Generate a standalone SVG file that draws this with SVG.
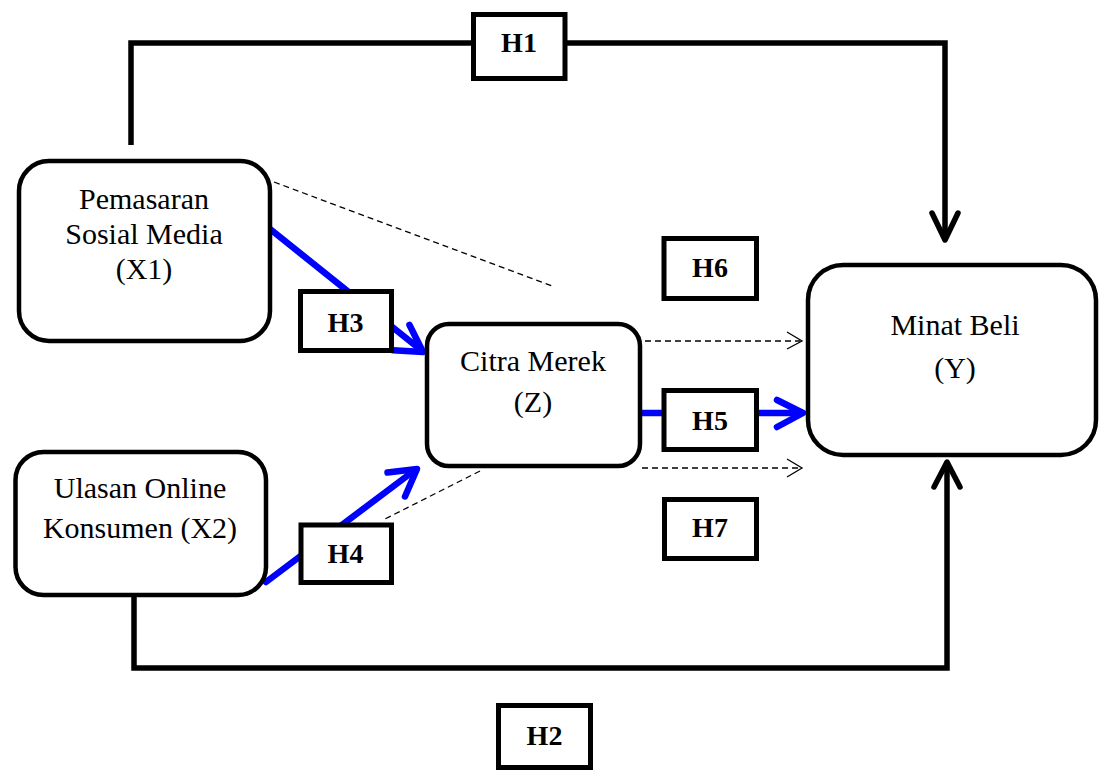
<svg xmlns="http://www.w3.org/2000/svg" width="1099" height="772" viewBox="0 0 1099 772">
<style>
.node{fill:#fff;stroke:#000;stroke-width:4.5}
.hbox{fill:#fff;stroke:#000;stroke-width:5}
.lbl{font-family:"Liberation Serif","Times New Roman",serif;font-size:30px;fill:#000;text-anchor:middle}
.h{font-family:"Liberation Serif","Times New Roman",serif;font-size:28px;font-weight:bold;fill:#000;text-anchor:middle}
.blk{fill:none;stroke:#000;stroke-width:5.5;stroke-linecap:round;stroke-linejoin:round}
.blkl{fill:none;stroke:#000;stroke-width:5.5;stroke-linejoin:miter}
.blue{fill:none;stroke:#0000FF;stroke-width:6.5;stroke-linecap:round;stroke-linejoin:round}
.dash{fill:none;stroke:#000;stroke-width:1.3;stroke-dasharray:6 4}
.thin{fill:none;stroke:#000;stroke-width:1.3}
</style>
<rect width="1099" height="772" fill="#fff"/>
<g id="connectors">
  <path class="blkl" d="M131 145 V43 H945 V238"/>
  <polyline class="blk" points="932,213 945,240 958,213"/>
  <path class="blkl" d="M134 597 V668 H947 V465"/>
  <polyline class="blk" points="934,487 947,462 960,487"/>
  <line class="dash" x1="274" y1="182" x2="552" y2="286"/>
  <line class="dash" x1="480" y1="471" x2="383" y2="520"/>
  <line class="dash" x1="645" y1="341" x2="800" y2="341"/>
  <polyline class="thin" points="787,332 802,341 787,349"/>
  <line class="dash" x1="642" y1="468" x2="801" y2="468"/>
  <polyline class="thin" points="787,459 802,468 787,477"/>
  <line class="blue" x1="270" y1="229" x2="421" y2="350"/>
  <polyline class="blue" points="409.5,325 423,352 393,350.3"/>
  <line class="blue" x1="266" y1="582" x2="415" y2="470"/>
  <polyline class="blue" points="387.5,472.5 417,469 405,496.5"/>
  <line class="blue" x1="642" y1="413" x2="800" y2="413"/>
  <polyline class="blue" points="777,400 803,413 777,427"/>
</g>
<g id="H1"><rect class="hbox" x="473.5" y="14.5" width="91.5" height="64"/><text class="h" x="519" y="52">H1</text></g>
<g id="H2"><rect class="hbox" x="498.5" y="705.5" width="92" height="62"/><text class="h" x="544.5" y="745">H2</text></g>
<g id="H3"><rect class="hbox" x="300.5" y="291.5" width="91" height="59"/><text class="h" x="345.5" y="331.5">H3</text></g>
<g id="H4"><rect class="hbox" x="301" y="525" width="90.5" height="57.5"/><text class="h" x="345.5" y="563">H4</text></g>
<g id="H5"><rect class="hbox" x="664" y="390.5" width="92.5" height="59"/><text class="h" x="710" y="430">H5</text></g>
<g id="H6"><rect class="hbox" x="664" y="238.5" width="92.5" height="60"/><text class="h" x="710" y="277">H6</text></g>
<g id="H7"><rect class="hbox" x="664.5" y="499.5" width="92" height="59"/><text class="h" x="710" y="537">H7</text></g>
<g id="X1"><rect class="node" x="19" y="161" width="251" height="180" rx="30"/>
  <text class="lbl" x="144" y="209">Pemasaran</text>
  <text class="lbl" x="144" y="244">Sosial Media</text>
  <text class="lbl" x="144" y="279">(X1)</text></g>
<g id="X2"><rect class="node" x="15.5" y="452" width="250.5" height="143" rx="28"/>
  <text class="lbl" x="140" y="498">Ulasan Online</text>
  <text class="lbl" x="140" y="538">Konsumen (X2)</text></g>
<g id="Z"><rect class="node" x="427" y="324" width="213" height="142" rx="22"/>
  <text class="lbl" x="533" y="371">Citra Merek</text>
  <text class="lbl" x="533" y="412">(Z)</text></g>
<g id="Y"><rect class="node" x="808" y="265" width="288" height="190" rx="35"/>
  <text class="lbl" x="955" y="335">Minat Beli</text>
  <text class="lbl" x="955" y="378">(Y)</text></g>
</svg>
